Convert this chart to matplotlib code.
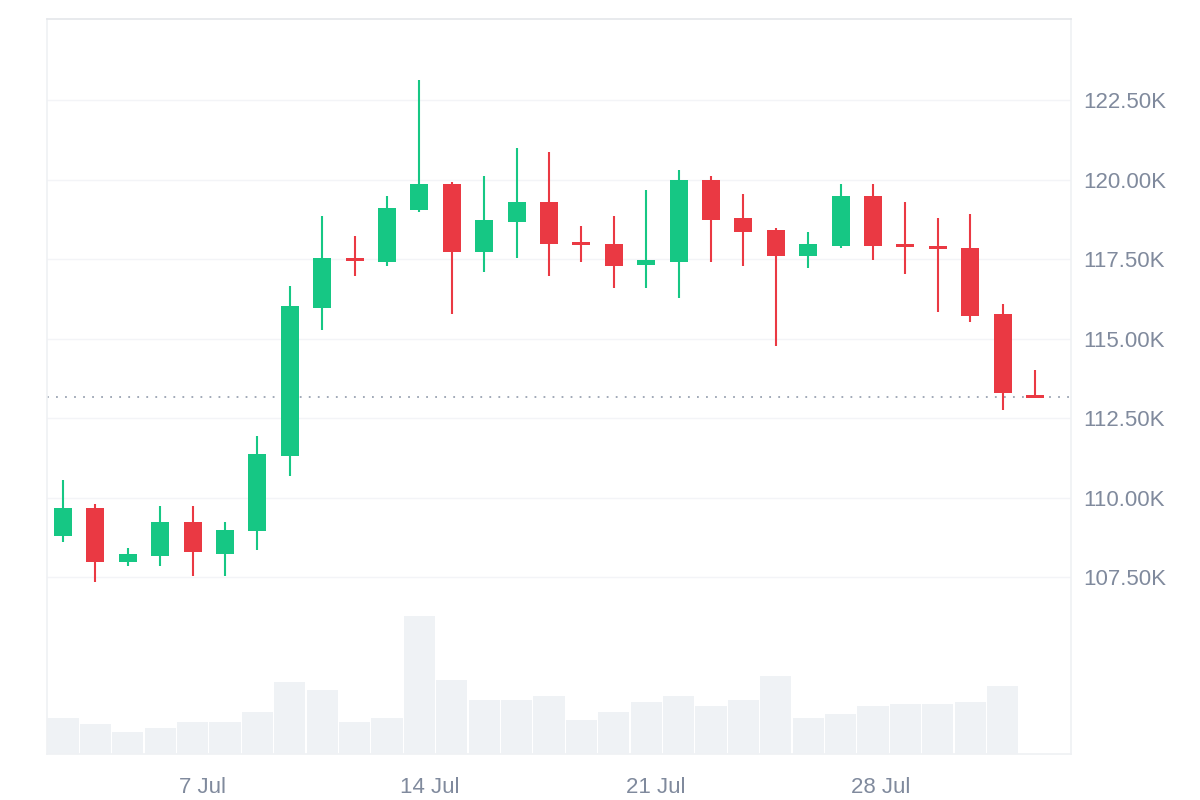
import matplotlib
matplotlib.use("Agg")
import matplotlib.pyplot as plt

# Prices in thousands, one candle per day in July
opens = [108.79, 109.67, 107.97, 108.16, 109.23, 108.22, 108.95, 111.31, 115.97, 117.54, 117.41,
         119.05, 119.87, 117.73, 118.67, 119.30, 118.04, 117.98, 117.32, 117.41, 120.00,
         118.80, 118.42, 117.60, 117.92, 119.49, 117.98, 117.92, 117.86, 115.78, 113.24]
closes = [109.67, 107.97, 108.22, 109.23, 108.29, 108.98, 111.37, 116.03, 117.54, 117.45, 119.11,
          119.87, 117.73, 118.74, 119.30, 117.98, 117.95, 117.29, 117.48, 120.00, 118.74,
          118.36, 117.60, 117.98, 119.49, 117.92, 117.89, 117.82, 115.72, 113.29, 113.13]
highs = [110.55, 109.80, 108.41, 109.74, 109.73, 109.23, 111.94, 116.66, 118.86, 118.23, 119.49,
         123.14, 119.93, 120.12, 121.00, 120.88, 118.55, 118.86, 119.68, 120.31, 120.12,
         119.56, 118.49, 118.35, 119.87, 119.87, 119.30, 118.80, 118.93, 116.09, 114.02]
lows = [108.60, 107.34, 107.84, 107.85, 107.53, 107.53, 108.35, 110.68, 115.27, 116.97, 117.29,
        118.99, 115.78, 117.10, 117.54, 116.97, 117.41, 116.60, 116.60, 116.28, 117.41,
        117.29, 114.77, 117.22, 117.86, 117.48, 117.04, 115.84, 115.53, 112.76, 113.13]
volumes = [18, 15, 11, 13, 16, 16, 21, 36, 32, 16, 18, 69, 37, 27, 27, 29, 17, 21, 26, 29,
           24, 27, 39, 18, 20, 24, 25, 25, 26, 34]
last_price = 113.17

price_ticks = [107.5, 110.0, 112.5, 115.0, 117.5, 120.0, 122.5]
price_labels = ["107.50K", "110.00K", "112.50K", "115.00K", "117.50K", "120.00K", "122.50K"]
date_ticks = [4.32, 11.33, 18.3, 25.25]
date_labels = ["7 Jul", "14 Jul", "21 Jul", "28 Jul"]

GREEN, RED, GREY = "#16c784", "#ea3943", "#808a9d"

plt.rcParams["font.family"] = ["Liberation Sans", "DejaVu Sans"]
fig = plt.figure(figsize=(12, 8), dpi=100, facecolor="white")
ax = fig.add_axes([47 / 1200, 1 - 754 / 800, (1071 - 47) / 1200, (754 - 19) / 800])
ax.set_xlim(-0.494, 31.11)
ax.set_ylim(101.93, 125.06)
ax.set_axisbelow(True)

# Volume panel shares the x axis and is scaled to the lower part of the plot
vol = ax.twinx()
vol.set_xlim(ax.get_xlim())
vol.set_ylim(0, 367.5)
vol.axis("off")
vol.bar(range(len(volumes)), volumes, width=0.965, color="#eff2f5", linewidth=0, zorder=1)

ax.yaxis.tick_right()
ax.set_yticks(price_ticks, price_labels)
ax.set_xticks(date_ticks, date_labels)
ax.tick_params(axis="y", length=0, pad=8.5, labelsize=16, labelcolor=GREY)
ax.tick_params(axis="x", length=0, pad=16.5, labelsize=16, labelcolor=GREY)
ax.grid(axis="y", color="#f3f4f7", lw=1)
ax.grid(axis="x", visible=False)

for side, color in [("top", "#e4e6ea"), ("left", "#eff1f4"), ("right", "#eff1f4"), ("bottom", "#eff1f4")]:
    ax.spines[side].set_color(color)
    ax.spines[side].set_linewidth(1.2)

# Candles are drawn above the volume bars
ax.set_zorder(vol.get_zorder() + 1)
ax.patch.set_visible(False)
ax.axhline(last_price, color="#9aa3b2", lw=1.3, ls=(0, (1, 4)), zorder=2)
for i, (o, c, h, l) in enumerate(zip(opens, closes, highs, lows)):
    color = GREEN if c >= o else RED
    ax.vlines(i, l, h, color=color, lw=1.5, zorder=3)
    ax.bar(i, abs(c - o), bottom=min(o, c), width=0.556, color=color, linewidth=0, zorder=4)

fig.savefig("out.png", dpi=100, facecolor="white")
